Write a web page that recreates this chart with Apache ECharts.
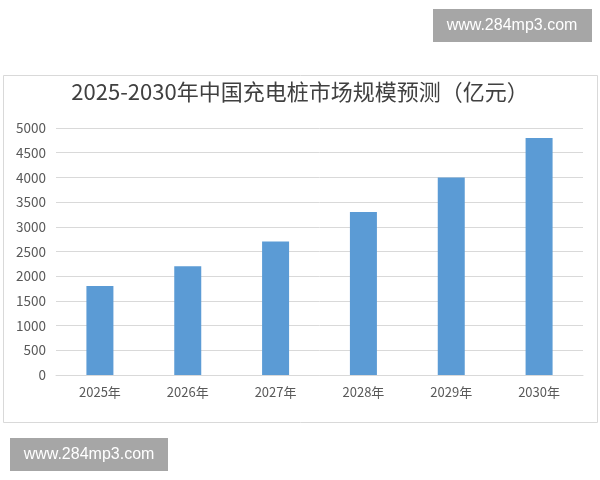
<!DOCTYPE html>
<html><head><meta charset="utf-8">
<script src="https://cdn.jsdelivr.net/npm/echarts@6/dist/echarts.min.js"></script>
<style>html,body{margin:0;padding:0;background:#fff}#c{width:600px;height:480px}</style>
</head><body><div id="c"></div>
<script>
const categories = ['2025年','2026年','2027年','2028年','2029年','2030年'];
const values = [1800, 2200, 2700, 3300, 4000, 4800];
const titleText = '2025-2030年中国充电桩市场规模预测（亿元）';
const watermark = 'www.284mp3.com';

const chart = echarts.init(document.getElementById('c'));
chart.setOption({
  backgroundColor: '#fff',
  animation: false,
  title: {
    text: titleText, left: 'center', top: 76,
    textStyle: {fontFamily: 'Noto Sans CJK SC', fontSize: 22, fontWeight: 'normal', color: '#404040'}
  },
  grid: {left: 56, right: 17, top: 128, bottom: 105},
  xAxis: {
    type: 'category', data: categories,
    axisLine: {lineStyle: {color: '#d9d9d9'}},
    axisTick: {show: false},
    axisLabel: {color: '#595959', fontSize: 13, margin: 11, fontFamily: 'Noto Sans CJK SC'}
  },
  yAxis: {
    type: 'value', min: 0, max: 5000, interval: 500,
    axisLine: {show: false}, axisTick: {show: false},
    splitLine: {lineStyle: {color: '#d9d9d9'}},
    axisLabel: {color: '#595959', fontSize: 13.5, margin: 10, fontFamily: 'Noto Sans CJK SC', formatter: v => String(v)}
  },
  series: [{
    type: 'bar', data: values, barWidth: 27,
    itemStyle: {color: '#5b9bd5'}
  }],
  graphic: [
    {type: 'rect', shape: {x: 3.5, y: 75.5, width: 594, height: 347}, style: {fill: 'none', stroke: '#d9d9d9', lineWidth: 1}, z: -1},
    {type: 'rect', shape: {x: 433, y: 9, width: 159, height: 33}, style: {fill: '#a6a6a6'}},
    {type: 'text', x: 512, y: 25.5, style: {text: watermark, fill: '#fff', fontSize: 16, fontFamily: 'Liberation Sans', align: 'center', verticalAlign: 'middle'}},
    {type: 'rect', shape: {x: 10, y: 438, width: 158, height: 33}, style: {fill: '#a6a6a6'}},
    {type: 'text', x: 89, y: 454.5, style: {text: watermark, fill: '#fff', fontSize: 16, fontFamily: 'Liberation Sans', align: 'center', verticalAlign: 'middle'}}
  ]
});
</script></body></html>
